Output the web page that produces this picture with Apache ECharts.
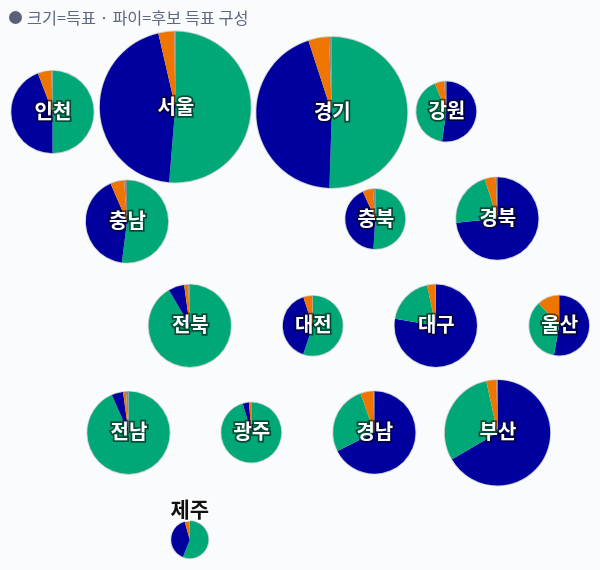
<!DOCTYPE html>
<html lang="ko">
<head>
<meta charset="utf-8">
<style>
html,body{margin:0;padding:0;background:#fafbfd;}
#chart{width:600px;height:570px;}
</style>
<script src="https://cdn.jsdelivr.net/npm/echarts@6/dist/echarts.min.js"></script>
</head>
<body>
<div id="chart"></div>
<script>
var caption = '크기=득표 · 파이=후보 득표 구성';
var regions = ['인천','서울','경기','강원','충남','충북','경북','전북','대전','대구','울산','전남','광주','경남','부산','제주'];
var greenShare  = [50.0,51.3,50.5,41.5,52.0,51.0,21.7,91.6,55.2,18.9,35.3,93.4,95.4,27.0,30.0,56.0];
var blueShare   = [44.3,45.1,44.5,52.3,41.5,42.2,73.4, 6.2,39.7,77.7,52.8, 4.5, 3.4,67.6,66.6,39.6];
var orangeShare = [ 5.3, 3.4, 4.4, 5.1, 5.4, 5.5, 4.3, 1.6, 4.8, 3.3,11.8, 1.1, 1.1, 5.1, 3.1, 4.3];
var grayShare   = [ 0.4, 0.2, 0.6, 1.1, 1.1, 1.3, 0.6, 0.6, 0.3, 0.1, 0.1, 1.0, 0.1, 0.3, 0.3, 0.1];

// layout, kept apart from the values
var centerX = [52.5,175.3,331.8,446.3,127,375.3,497.3,189.8,312.8,435.8,559.2,128.5,251.3,374.3,497.5,189.8];
var centerY = [112,107,112.5,111.5,221.5,219,218.5,325.8,325.8,325.7,325.5,432.8,432.5,432.5,432.8,539.7];
var radius  = [41.2,75.5,75.5,30,41.2,30,41.2,41.2,30,41.2,30,41.2,30,41.2,52.7,18.6];
var colors = {green:'#00a878', blue:'#00009e', orange:'#ee7600', gray:'#8a8a8a'};
var outsideLabel = ['제주'];

var series = [];
regions.forEach(function (name, i) {
  var items = [
    {name:'green',  value:greenShare[i],  itemStyle:{color:colors.green}},
    {name:'blue',   value:blueShare[i],   itemStyle:{color:colors.blue}},
    {name:'orange', value:orangeShare[i], itemStyle:{color:colors.orange}},
    {name:'gray',   value:grayShare[i],   itemStyle:{color:colors.gray}}
  ];
  items.sort(function (a, b) { return b.value - a.value; });
  var outside = outsideLabel.indexOf(name) >= 0;
  items[0].label = {
    show: true, position: 'center', formatter: name,
    fontFamily: '"Noto Sans CJK KR","Noto Sans",sans-serif',
    fontSize: outside ? 21 : 20, fontWeight: 'bold',
    color: outside ? '#111111' : '#ffffff',
    textBorderColor: outside ? '#ffffff' : 'rgba(0,0,0,0.55)',
    textBorderWidth: 3.5,
    offset: outside ? [0, -31] : [0.5, -1]
  };
  var center = [centerX[i], centerY[i]];
  series.push({
    type:'pie', name:name+' 테두리', silent:true, animation:false,
    center:center, radius:[radius[i]-0.5, radius[i]+0.9],
    label:{show:false}, labelLine:{show:false},
    data:[{name:name, value:1, itemStyle:{color:'rgba(130,130,130,0.35)'}}]
  });
  series.push({
    type:'pie', name:name, animation:false, silent:true,
    center:center, radius:[0, radius[i]],
    startAngle:90, clockwise:true, avoidLabelOverlap:false,
    label:{show:false}, labelLine:{show:false},
    data:items, z:3
  });
});

var chart = echarts.init(document.getElementById('chart'), null, {renderer:'canvas'});
chart.setOption({
  backgroundColor:'#fafbfd',
  animation:false,
  title:{
    text:caption, left:27, top:10, padding:0,
    textStyle:{fontFamily:'"Noto Sans CJK KR","Noto Sans",sans-serif', fontSize:16.3, fontWeight:'normal', color:'#5d6880'}
  },
  graphic:[{type:'circle', shape:{cx:15.5, cy:17.5, r:6.5}, style:{fill:'#5a6078'}}],
  series:series
});
</script>
</body>
</html>
